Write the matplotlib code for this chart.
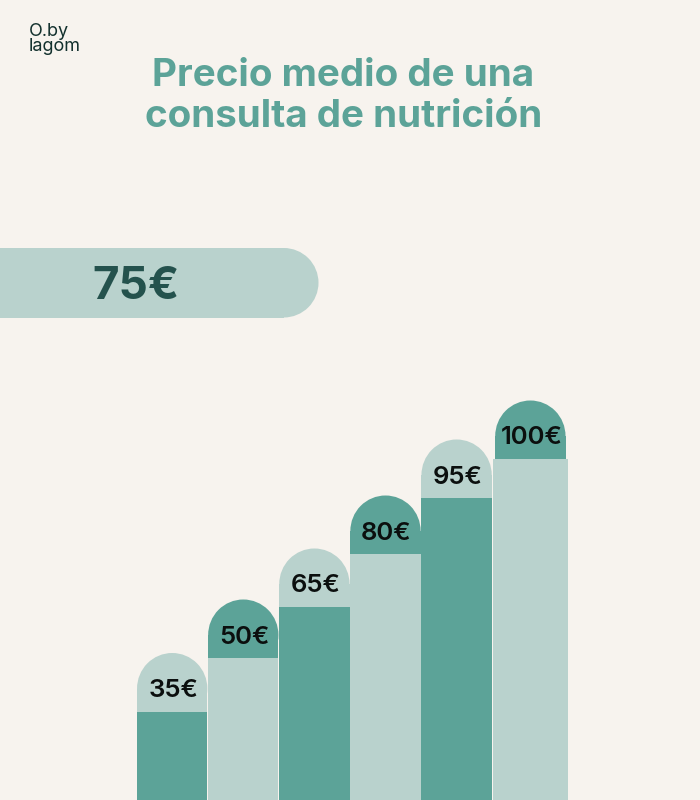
import numpy as np
import matplotlib
matplotlib.use("Agg")
import matplotlib.pyplot as plt
from matplotlib.patches import Rectangle, Ellipse

# --- data ---
prices = [35, 50, 65, 80, 95, 100]
price_labels = ["35€", "50€", "65€", "80€", "95€", "100€"]
average_price = 75
average_label = "75€"
title_text = "Precio medio de una\nconsulta de nutrición"
logo_text = "O.by\nlagom"

# --- style ---
BG = "#F7F3EE"
LIGHT = "#B9D2CD"
DARK = "#5CA398"
AVG_TEXT = "#24524D"
TITLE = "#5CA398"
INK = "#0B0F0E"
LOGO = "#12302D"
FONT = ["Inter", "DejaVu Sans"]

# The source chart's bars are not strictly proportional; this scale reproduces its drawing
scale_euros = np.array([0, 35, 50, 65, 80, 95, 100, 300], dtype=float)
scale_px = np.array([0, 88.5, 142, 193, 246, 302, 341, 800], dtype=float)

fig = plt.figure(figsize=(7, 8), dpi=100, facecolor=BG)

# Pixel-space layer for caps, pill and text (beneath the bars)
deco = fig.add_axes([0, 0, 1, 1], zorder=0)
deco.set_xlim(0, 700)
deco.set_ylim(800, 0)
deco.axis("off")

# Bars layer
ax = fig.add_axes([0, 0, 1, 1], zorder=1)
ax.patch.set_alpha(0)
ax.set_yscale("function", functions=(
    lambda v: np.interp(v, scale_euros, scale_px),
    lambda p: np.interp(p, scale_px, scale_euros),
))
ax.set_ylim(0, 300)
step = 71.1
ax.set_xlim(-137 / step, (700 - 137) / step)
ax.axis("off")

n = len(prices)
lefts = np.arange(n, dtype=float)
widths = np.array([0.99] * (n - 1) + [1.065])
body_colors = [DARK if i % 2 == 0 else LIGHT for i in range(n)]
cap_colors = [LIGHT if i % 2 == 0 else DARK for i in range(n)]
ax.bar(lefts, prices, width=widths, align="edge", color=body_colors, linewidth=0)

fig.canvas.draw()
cap_w = 71.0
cap_h = 58.5
for i, (price, label) in enumerate(zip(prices, price_labels)):
    x0_px = ax.transData.transform((lefts[i], price))[0]
    x1_px = ax.transData.transform((lefts[i] + widths[i], price))[0]
    cx = (x0_px + x1_px) / 2
    top = 800 - np.interp(price, scale_euros, scale_px)
    r = cap_w / 2
    w = cap_w * 0.99
    deco.add_patch(Ellipse((cx, top - cap_h + r), w, cap_w, color=cap_colors[i], lw=0))
    deco.add_patch(Rectangle((cx - w / 2, top - cap_h + r), w, cap_h - r + 1,
                             color=cap_colors[i], lw=0))
    deco.text(cx + 1, top - 21, label, ha="center", va="center", fontsize=18.5,
              fontweight="semibold", color=INK, family=FONT)

# Average pill
px_per_euro = 318.5 / 75
pill_end = average_price * px_per_euro
pill_top, pill_bottom = 248, 317.5
rad = (pill_bottom - pill_top) / 2
deco.add_patch(Rectangle((-10, pill_top), pill_end - rad + 10, pill_bottom - pill_top,
                         color=LIGHT, lw=0))
deco.add_patch(Ellipse((pill_end - rad, pill_top + rad), 2 * rad, 2 * rad, color=LIGHT, lw=0))
deco.text(136, 287, average_label, ha="center", va="center", fontsize=33,
          fontweight="bold", color=AVG_TEXT, family=FONT)

# Title
deco.text(343.5, 96.5, title_text, ha="center", va="center", fontsize=27.8, fontweight="bold",
          color=TITLE, family=FONT, linespacing=1.2)

# Logo
deco.text(29, 39, logo_text, ha="left", va="center", fontsize=13, color=LOGO,
          family=FONT, fontweight="normal", linespacing=0.92)

fig.savefig("out.png", dpi=100, facecolor=BG)
